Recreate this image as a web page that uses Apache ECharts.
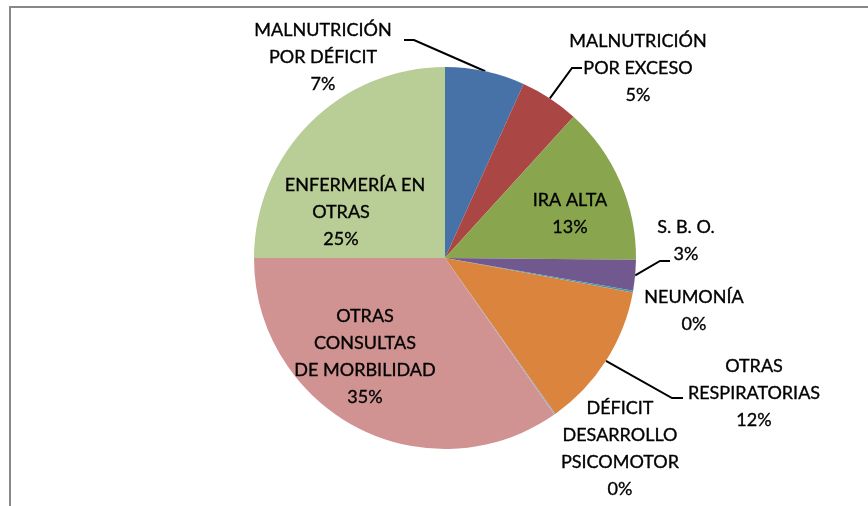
<!DOCTYPE html>
<html>
<head>
    <meta charset="utf-8">
    <title>Consultas</title>
    <script src="https://cdn.jsdelivr.net/npm/echarts@6/dist/echarts.min.js"></script>
    <style>
        html, body { margin: 0; padding: 0; background: #fff; }
        #box { width: 868px; height: 506px; }
    </style>
</head>
<body>
    <div id="box"></div>
    <script>
        // datos (porcentajes)
        var categories = [
            'MALNUTRICIÓN\nPOR DÉFICIT',
            'MALNUTRICIÓN\nPOR EXCESO',
            'IRA ALTA',
            'S. B. O.',
            'NEUMONÍA',
            'OTRAS\nRESPIRATORIAS',
            'DÉFICIT\nDESARROLLO\nPSICOMOTOR',
            'OTRAS\nCONSULTAS\nDE MORBILIDAD',
            'ENFERMERÍA EN\nOTRAS'
        ];
        var shares = [6.75, 5.0, 13.4, 2.6, 0.15, 12.3, 0.1, 34.7, 25.0];
        var colors = ['#4672A8', '#AA4644', '#89A54E', '#71588F', '#4198AF',
                      '#DB843D', '#93A9CF', '#D19392', '#B9CD96'];
        var inside = [false, false, true, false, false, false, false, true, true];
        var noLine = [false, false, false, false, true, false, true, false, false];

        // donde va cada etiqueta (centro del bloque) y el quiebre de la guia
        var labelSpots = [
            { x: 323, y: 57, bend: [414, 40], end: [404, 40] },
            { x: 638, y: 68, bend: [572, 68], end: [582, 68] },
            { x: 570, y: 214 },
            { x: 686, y: 241, bend: [660, 261], end: [670, 261] },
            { x: 694, y: 311 },
            { x: 754, y: 393, bend: [672, 398], end: [683, 398] },
            { x: 620, y: 449 },
            { x: 365, y: 357 },
            { x: 341, y: 212 }
        ];

        var myChart = echarts.init(document.getElementById('box'));

        var pieData = categories.map(function (name, i) {
            return {
                name: name,
                value: shares[i],
                itemStyle: { color: colors[i] },
                label: { position: inside[i] ? 'inside' : 'outside' },
                labelLine: { show: !inside[i] && !noLine[i] }
            };
        });

        var option = {
            animation: false,
            graphic: [{
                type: 'rect',
                shape: { x: 10, y: 7, width: 900, height: 600 },
                style: { fill: 'none', stroke: '#888888', lineWidth: 2 }
            }],
            series: [{
                type: 'pie',
                center: [445, 258],
                radius: 191,
                startAngle: 90,
                clockwise: true,
                avoidLabelOverlap: false,
                data: pieData,
                itemStyle: { borderWidth: 0 },
                emphasis: { disabled: true },
                label: {
                    formatter: function (p) {
                        var lines = p.name.split('\n');
                        // en el original la primera linea de ENFERMERÍA va corrida a la derecha
                        if (p.dataIndex === 8) lines[0] = '{shift|' + lines[0] + '}';
                        return lines.join('\n') + '\n' + Math.round(p.percent) + '%';
                    },
                    rich: {
                        shift: { padding: [0, 0, 0, 28], fontFamily: 'Lato', fontSize: 18,
                                 color: '#000', textBorderColor: '#000', textBorderWidth: 0.35 }
                    },
                    fontFamily: 'Lato',
                    fontSize: 18,
                    lineHeight: 27,
                    color: '#000',
                    textBorderColor: '#000',
                    textBorderWidth: 0.35,
                    align: 'center'
                },
                labelLine: {
                    lineStyle: { color: '#000', width: 2 }
                },
                labelLayout: function (p) {
                    var s = labelSpots[p.dataIndex];
                    var o = { x: s.x, y: s.y, align: 'center', verticalAlign: 'middle' };
                    if (s.bend && p.labelLinePoints) {
                        o.labelLinePoints = [p.labelLinePoints[0], s.bend, s.end];
                    }
                    return o;
                }
            }]
        };
        myChart.setOption(option);
    </script>
</body>
</html>
